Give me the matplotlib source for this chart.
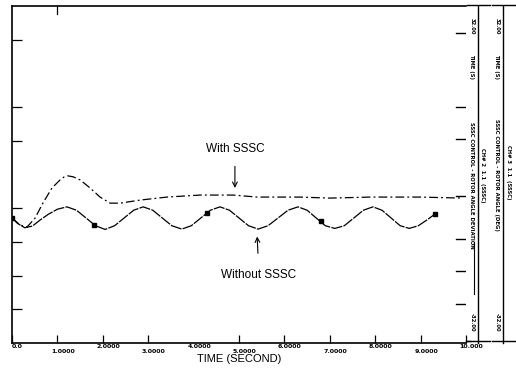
import matplotlib
matplotlib.use('Agg')
import matplotlib.pyplot as plt
from matplotlib.lines import Line2D
from matplotlib.transforms import ScaledTranslation

# time axis ticks
TIME_TICKS = [0, 1, 2, 3, 4, 5, 6, 7, 8, 9, 10]
TIME_LABELS = ['0.0', '1.0000', '2.0000', '3.0000', '4.0000', '5.0000',
               '6.0000', '7.0000', '8.0000', '9.0000', '10.000']

# without SSSC (solid-ish line with square markers)
t_without = [0.00, 0.12, 0.28, 0.45, 0.62, 0.80, 1.00, 1.21, 1.42, 1.63, 1.84,
             2.05, 2.26, 2.47, 2.68, 2.89, 3.10, 3.31, 3.52, 3.74, 3.95, 4.16,
             4.37, 4.58, 4.79, 5.00, 5.21, 5.42, 5.64, 5.86, 6.08, 6.30, 6.50,
             6.70, 6.90, 7.11, 7.32, 7.53, 7.74, 7.95, 8.15, 8.35, 8.55, 8.75,
             8.95, 9.15, 9.32]
y_without = [3.71, 3.55, 3.42, 3.47, 3.65, 3.82, 3.97, 4.04, 3.94, 3.71, 3.48,
             3.37, 3.48, 3.71, 3.94, 4.04, 3.94, 3.71, 3.48, 3.38, 3.48, 3.71,
             3.94, 4.04, 3.94, 3.71, 3.48, 3.38, 3.48, 3.71, 3.94, 4.04, 3.94,
             3.71, 3.48, 3.40, 3.48, 3.71, 3.94, 4.04, 3.94, 3.71, 3.48, 3.40,
             3.48, 3.66, 3.83]
t_marks = [0.00, 1.81, 4.30, 6.81, 9.32]
y_marks = [3.71, 3.50, 3.86, 3.62, 3.83]

# with SSSC (dash-dot)
t_with = [0.00, 0.18, 0.33, 0.51, 0.68, 0.88, 1.06, 1.15, 1.23, 1.35, 1.50,
          1.72, 1.94, 2.16, 2.38, 2.82, 3.41, 4.14, 4.87, 5.40, 6.34, 7.00,
          7.89, 8.99, 9.91]
y_with = [3.71, 3.50, 3.44, 3.71, 4.15, 4.60, 4.84, 4.93, 4.96, 4.93, 4.84,
          4.60, 4.33, 4.15, 4.15, 4.24, 4.33, 4.39, 4.39, 4.33, 4.33, 4.30,
          4.33, 4.33, 4.30]

LEFT_TICKS = [1, 2, 3, 4, 6, 7, 9]
RIGHT_TICKS = [1.15, 2.15, 3.1, 4.35, 6.05, 7.0, 9.2]


def main():
    W, H = 516, 370
    fig = plt.figure(figsize=(W / 100, H / 100), dpi=100)
    plt.rcParams['font.family'] = ['Liberation Sans', 'DejaVu Sans']
    ax = fig.add_axes([12 / W, 1 - 343 / H, (466 - 12) / W, (343 - 6) / H])
    ax.set_xlim(0, 10)
    ax.set_ylim(0, 10)

    ax.plot(t_without, y_without, color='black', lw=0.9, ls=(0, (9, 1.0)))
    ax.plot(t_marks, y_marks, ls='none', marker='s', ms=2.8, color='black')
    ax.plot(t_with, y_with, color='black', lw=0.9, ls=(0, (7, 2.5, 1.5, 2.5)))

    ax.annotate('With SSSC', xy=(4.91, 4.60), xytext=(4.91, 5.75),
                ha='center', va='center', fontsize=8.5,
                arrowprops=dict(arrowstyle='->', lw=0.8, color='black',
                                shrinkA=6, shrinkB=0))
    ax.annotate('Without SSSC', xy=(5.40, 3.16), xytext=(5.44, 2.03),
                ha='center', va='center', fontsize=8.5,
                arrowprops=dict(arrowstyle='->', lw=0.8, color='black',
                                shrinkA=9, shrinkB=0))

    for s in ['left', 'bottom', 'top']:
        ax.spines[s].set_linewidth(1.2)
    ax.spines['right'].set_visible(False)

    ax.set_yticks(LEFT_TICKS)
    ax.set_yticklabels([])
    ax.tick_params(axis='y', direction='in', length=7, width=0.9)

    ax.set_xticks(TIME_TICKS)
    labels = [lab if i % 2 == 0 else '\n' + lab for i, lab in enumerate(TIME_LABELS)]
    ax.set_xticklabels(labels, fontsize=4.5, fontweight='bold', linespacing=0.9,
                       family='DejaVu Sans')
    ax.tick_params(axis='x', direction='in', length=6, width=0.9, pad=1, top=False)
    ticks = ax.xaxis.get_major_ticks()
    ticks[4].tick1line.set_visible(False)
    off = ScaledTranslation(4 / 72, 0, fig.dpi_scale_trans)
    for lab in ax.get_xticklabels():
        lab.set_transform(lab.get_transform() + off)
    ax.set_xlabel('TIME (SECOND)', fontsize=8, labelpad=0)

    # single tick on top
    ax.plot([1, 1], [10, 9.75], color='black', lw=0.9, clip_on=False)

    # right side ticks (not aligned to left ones)
    for v in RIGHT_TICKS:
        ax.plot([9.77, 9.97], [v, v], color='black', lw=1.0)

    # extra channel columns on the right
    for x0, x1, xv in [(467, 490, 478), (492, 516, 503)]:
        fig.add_artist(Line2D([xv / W, xv / W], [1 - 6 / H, 1 - 343 / H],
                              color='black', lw=1.0))
        fig.add_artist(Line2D([x0 / W, x1 / W], [1 - 5 / H, 1 - 5 / H],
                              color='black', lw=1.0))
        fig.add_artist(Line2D([x0 / W, x1 / W], [1 - 341 / H, 1 - 341 / H],
                              color='black', lw=1.0))
    fig.add_artist(Line2D([466 / W, 470 / W], [1 - 341 / H, 1 - 341 / H],
                          color='black', lw=1.0))

    txt = dict(rotation=270, fontsize=3.8, fontweight='bold', ha='center',
               va='center', family='DejaVu Sans')
    for xc in [472, 497]:
        fig.text(xc / W, 1 - 26 / H, '32.00', **txt)
        fig.text(xc / W, 1 - 67 / H, 'TIME (S)', **txt)
        fig.text(xc / W, 1 - 322 / H, '-32.00', **txt)
    fig.text(472 / W, 1 - 185 / H, 'SSSC CONTROL - ROTOR ANGLE DEVIATION', **txt)
    fig.text(497 / W, 1 - 175 / H, 'SSSC CONTROL - ROTOR ANGLE (DEG)', **txt)
    fig.text(483 / W, 1 - 175 / H, 'CH# 2  1.1  (SSSC)', **txt)
    fig.text(508 / W, 1 - 172 / H, 'CH# 3  1.1  (SSSC)', **txt)
    fig.add_artist(Line2D([474 / W, 474 / W], [1 - 242 / H, 1 - 294 / H],
                          color='black', lw=0.8))

    fig.savefig('out.png', dpi=100)
    return 0


if __name__ == "__main__":
    main()
